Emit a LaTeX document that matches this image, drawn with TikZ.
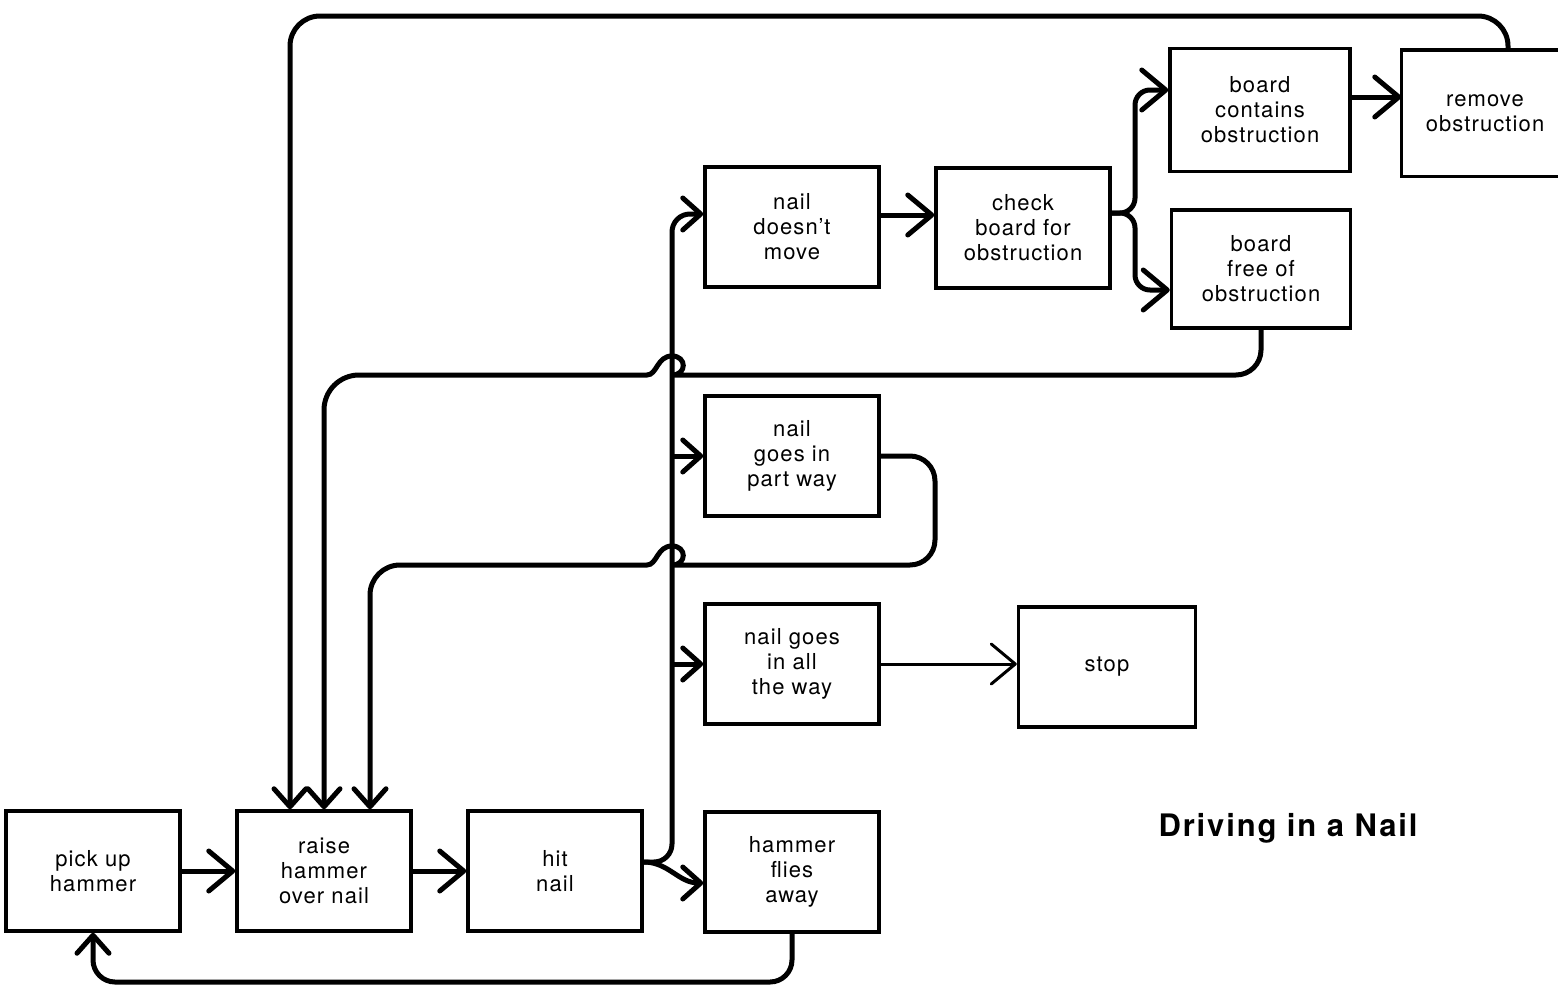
\documentclass[tikz,border=0pt]{standalone}
\usepackage{fontspec}
\setmainfont{TeX Gyre Heros}[LetterSpace=5]
\newfontfamily\titlefont{TeX Gyre Heros}[LetterSpace=6]
\usepackage{tikz}
\usetikzlibrary{arrows.meta,positioning,calc}
\tikzset{bigtip/.tip={Straight Barb[length=24pt,width=40pt,round]},
  smalltip/.tip={Straight Barb[length=18pt,width=32pt,round]}}
\tikzstyle{block}=[draw,line width=3.5pt,minimum width=174pt,minimum height=120pt,align=center,inner sep=0pt,font=\fontsize{22}{25}\selectfont]
\tikzstyle{flow}=[line width=5pt,-bigtip]
\tikzstyle{branch}=[line width=5pt,-smalltip]

\begin{document}
\begin{tikzpicture}[x=1pt,y=-1pt]
\useasboundingbox (0,0) rectangle (1558,988);
\node [block] (pick) at (93,871) {pick up\\hammer};
\node [block] (raise) at (324,871) {raise\\hammer\\over nail};
\node [block] (hit) at (555,871) {hit\\nail};
\node [block] (flies) at (792,872) {hammer\\flies\\away};
\node [block] (allway) at (792,664) {nail goes\\in all\\the way};
\node [block,minimum width=177pt] (stop) at (1107,667) {stop};
\node [block] (partway) at (792,456) {nail\\goes in\\part way};
\node [block] (nomove) at (792,227) {nail\\doesn't\\move};
\node [block] (check) at (1023,228) {check\\board for\\obstruction};
\node [block,minimum width=180pt,minimum height=123pt] (contains) at (1260,110) {board\\contains\\obstruction};
\node [block,minimum width=179pt,minimum height=118pt] (free) at (1261,269) {board\\free of\\obstruction};
\node [block,draw=none,minimum width=164pt,minimum height=123pt] (remove) at (1485,113) {remove\\obstruction};
\draw [line width=3.5pt] ([xshift=40pt]remove.north east) -- (remove.north west) -- (remove.south west) -- ([xshift=40pt]remove.south east);
\node [font=\titlefont\fontsize{31}{36}\selectfont\bfseries] (title) at (1288,828) {Driving in a Nail};

\coordinate (trunk) at (672,0);
\coordinate (fork) at (1135,0);
\coordinate (hopA) at (672,375);
\coordinate (hopB) at (672,565);
\coordinate (loopR) at (935,565);
\coordinate (topL) at (290,16);
\coordinate (bottom) at (400,982);

\draw [flow] (pick) -- (raise);
\draw [flow] (raise) -- (hit);
\draw [branch,rounded corners=18pt] ([yshift=9pt]hit.east) -| ([yshift=13pt]nomove.west -| trunk) -- ([yshift=13pt]nomove.west);
\draw [branch] ([yshift=9pt]hit.east) to[out=0,in=180] ([yshift=-11pt]flies.west);
\draw [branch] (partway.west -| trunk) -- (partway.west);
\draw [branch] (allway.west -| trunk) -- (allway.west);
\draw [flow] ([yshift=12pt]nomove.east) -- ([yshift=13pt]check.west);
\draw [flow,rounded corners=15pt] ([yshift=15pt]check.east) -| ([yshift=20pt]contains.west -| fork) -- ([yshift=20pt]contains.west);
\draw [flow,rounded corners=15pt] ([yshift=15pt]check.east) -| ([yshift=-21pt]free.west -| fork) -- ([yshift=-21pt]free.west);
\draw [flow] ([yshift=13pt]contains.east) -- ([yshift=13pt]contains.east -| remove.west);
\draw [flow,line width=3pt] (allway.east) -- (allway.east -| stop.west);
\draw [branch,rounded corners=30pt] ([xshift=23pt]remove.north) |- (topL) -- ([xshift=-34pt]raise.north);
\draw [branch] (free.south) [rounded corners=25pt] |- ([xshift=25pt]hopA) [sharp corners]
  .. controls ([xshift=15pt]hopA) and ([xshift=15pt,yshift=19pt]hopA) .. ([yshift=19pt]hopA)
  .. controls ([xshift=-15pt,yshift=19pt]hopA) and ([xshift=-15pt]hopA) .. ([xshift=-25pt]hopA)
  [rounded corners=35pt] -| (raise.north);
\draw [branch] (partway.east) [rounded corners=25pt] -| (loopR) -- ([xshift=25pt]hopB) [sharp corners]
  .. controls ([xshift=15pt]hopB) and ([xshift=15pt,yshift=19pt]hopB) .. ([yshift=19pt]hopB)
  .. controls ([xshift=-15pt,yshift=19pt]hopB) and ([xshift=-15pt]hopB) .. ([xshift=-25pt]hopB)
  [rounded corners=30pt] -| ([xshift=46pt]raise.north);
\draw [branch,rounded corners=22pt] (flies.south) |- (bottom) -| (pick.south);
\end{tikzpicture}
\end{document}
